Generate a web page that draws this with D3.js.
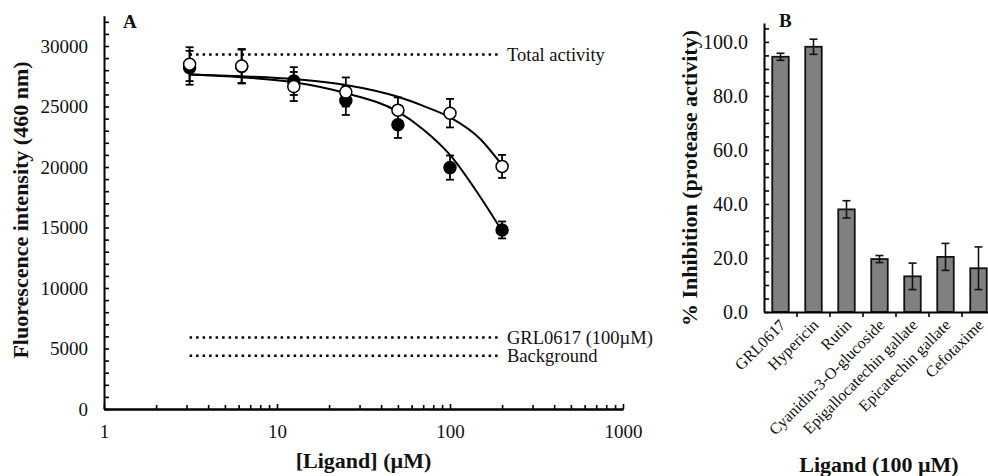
<!DOCTYPE html>
<html lang="en">
  <head>
    <meta charset="UTF-8" />
    <title>Ligand inhibition</title>
    <script src="https://d3js.org/d3.v7.min.js"></script>
    <style>
      body {
        margin: 0;
        background: #fff;
        font-family: "Liberation Serif", "Times New Roman", serif;
      }
      svg text {
        font-family: "Liberation Serif", "Times New Roman", serif;
        fill: #111;
      }
      .axis path,
      .axis line {
        stroke: #000;
      }
      .axis path {
        stroke-width: 2;
      }
      .axis line {
        stroke-width: 1.6;
      }
      .title {
        font-weight: bold;
        font-size: 22px;
      }
    </style>
  </head>
  <body>
    <svg id="chart" width="988" height="476"></svg>

    <script>
      // ---- panel A: fluorescence vs ligand concentration ----
      const conc = [3.125, 6.25, 12.5, 25, 50, 100, 200];
      const closedVals = [28200, 28300, 27100, 25500, 23500, 19950, 14800];
      const closedErr = [1400, 1400, 1150, 1200, 1100, 1000, 700];
      const openVals = [28500, 28350, 26650, 26200, 24700, 24450, 20050];
      const openErr = [1400, 1400, 1200, 1200, 1050, 1180, 950];

      // fitted curves
      const fitConc = [3.125, 6.25, 12.5, 25, 50, 70, 100, 150, 200];
      const fitOpen = [27650, 27500, 27270, 26780, 25800, 25050, 24100, 22300, 20150];
      const fitClosed = [27650, 27420, 27000, 26100, 24570, 23100, 21000, 17500, 14700];

      const refLabels = ["Total activity", "GRL0617 (100\u00b5M)", "Background"];
      const refValues = [29300, 5900, 4400];
      const refRange = [3.125, 190];

      const xTicksA = [1, 10, 100, 1000];
      const yTicksA = [0, 5000, 10000, 15000, 20000, 25000, 30000];

      // ---- panel B: % inhibition at 100 uM ----
      const ligands = [
        "GRL0617",
        "Hypericin",
        "Rutin",
        "Cyanidin-3-O-glucoside",
        "Epigallocatechin gallate",
        "Epicatechin gallate",
        "Cefotaxime",
      ];
      const inhibition = [94.5, 98.2, 38.0, 19.6, 13.2, 20.4, 16.2];
      const inhibitionErr = [1.3, 2.8, 3.2, 1.3, 4.9, 5.0, 7.9];
      const yTicksB = [0, 20, 40, 60, 80, 100];

      const svg = d3.select("#chart");

      // ===== Panel A =====
      const x = d3.scaleLog().domain([1, 1000]).range([104, 623]);
      const y = d3.scaleLinear().domain([0, 32500]).range([409, 15.75]);

      const minorX = [];
      xTicksA.slice(0, 3).forEach((d) => {
        for (let k = 2; k <= 9; k++) minorX.push(d * k);
      });

      svg
        .append("g")
        .attr("class", "axis")
        .attr("transform", "translate(0,409)")
        .call(
          d3.axisBottom(x).tickValues(minorX).tickSizeInner(-4).tickSizeOuter(0).tickFormat("")
        );

      const xAxisA = svg
        .append("g")
        .attr("class", "axis")
        .attr("transform", "translate(0,409)")
        .call(
          d3
            .axisBottom(x)
            .tickValues(xTicksA)
            .tickSizeInner(-5)
            .tickSizeOuter(0)
            .tickPadding(15.5)
            .tickFormat(d3.format("d"))
        );
      xAxisA.selectAll("text").style("font-size", "19px");

      const yMinorA = d3.range(0, 32001, 1000);
      const yAxisA = svg
        .append("g")
        .attr("class", "axis")
        .attr("transform", "translate(104,0)")
        .call(
          d3
            .axisLeft(y)
            .tickValues(yMinorA)
            .tickSizeInner(-5)
            .tickSizeOuter(0)
            .tickPadding(16)
            .tickFormat((d) => (yTicksA.includes(d) ? d : ""))
        );
      yAxisA.selectAll("text").style("font-size", "19px");

      // reference dotted lines
      refValues.forEach((v, i) => {
        svg
          .append("line")
          .attr("x1", x(refRange[0]))
          .attr("x2", x(refRange[1]))
          .attr("y1", y(v))
          .attr("y2", y(v))
          .attr("stroke", "#000")
          .attr("stroke-width", 2.5)
          .attr("stroke-dasharray", "2.5,4");
        svg
          .append("text")
          .attr("x", 507)
          .attr("y", y(v))
          .attr("dy", "0.34em")
          .style("font-size", "18.5px")
          .text(refLabels[i]);
      });

      // fit curves
      const line = d3
        .line()
        .x((d) => x(d[0]))
        .y((d) => y(d[1]))
        .curve(d3.curveMonotoneX);

      [fitOpen, fitClosed].forEach((vals) => {
        svg
          .append("path")
          .datum(fitConc.map((c, i) => [c, vals[i]]))
          .attr("fill", "none")
          .attr("stroke", "#000")
          .attr("stroke-width", 2)
          .attr("d", line);
      });

      // error bars
      function drawErrors(vals, errs) {
        const g = svg.append("g");
        conc.forEach((c, i) => {
          const cx = x(c);
          const top = y(vals[i] + errs[i]);
          const bot = y(vals[i] - errs[i]);
          g.append("line")
            .attr("x1", cx).attr("x2", cx)
            .attr("y1", top).attr("y2", bot)
            .attr("stroke", "#000").attr("stroke-width", 1.8);
          [top, bot].forEach((yy) => {
            g.append("line")
              .attr("x1", cx - 4).attr("x2", cx + 4)
              .attr("y1", yy).attr("y2", yy)
              .attr("stroke", "#000").attr("stroke-width", 1.8);
          });
        });
      }
      drawErrors(closedVals, closedErr);
      drawErrors(openVals, openErr);

      svg
        .append("g")
        .selectAll("circle")
        .data(closedVals)
        .join("circle")
        .attr("cx", (d, i) => x(conc[i]))
        .attr("cy", (d) => y(d))
        .attr("r", 6)
        .attr("fill", "#000")
        .attr("stroke", "#000")
        .attr("stroke-width", 1.5);

      svg
        .append("g")
        .selectAll("circle")
        .data(openVals)
        .join("circle")
        .attr("cx", (d, i) => x(conc[i]))
        .attr("cy", (d) => y(d))
        .attr("r", 6)
        .attr("fill", "#fff")
        .attr("stroke", "#000")
        .attr("stroke-width", 1.5);

      svg
        .append("text")
        .attr("x", 123)
        .attr("y", 28)
        .style("font-size", "19px")
        .style("font-weight", "bold")
        .text("A");

      svg
        .append("text")
        .attr("class", "title")
        .attr("x", 363.5)
        .attr("y", 468)
        .attr("text-anchor", "middle")
        .text("[Ligand] (\u00b5M)");

      svg
        .append("text")
        .attr("class", "title")
        .attr("transform", "translate(28,210) rotate(-90)")
        .attr("text-anchor", "middle")
        .text("Fluorescence intensity (460 nm)");

      // ===== Panel B =====
      const xB = d3
        .scaleBand()
        .domain(ligands)
        .range([764, 995])
        .paddingInner(0.5)
        .paddingOuter(0.25);
      const yB = d3.scaleLinear().domain([0, 107]).range([312, 23]);

      svg
        .append("g")
        .selectAll("rect")
        .data(inhibition)
        .join("rect")
        .attr("x", (d, i) => xB(ligands[i]))
        .attr("width", xB.bandwidth())
        .attr("y", (d) => yB(d))
        .attr("height", (d) => yB(0) - yB(d))
        .attr("fill", "#808080")
        .attr("stroke", "#111")
        .attr("stroke-width", 1.8);

      inhibition.forEach((v, i) => {
        const cx = xB(ligands[i]) + xB.bandwidth() / 2;
        const top = yB(v + inhibitionErr[i]);
        const bot = yB(v - inhibitionErr[i]);
        svg.append("line")
          .attr("x1", cx).attr("x2", cx)
          .attr("y1", top).attr("y2", bot)
          .attr("stroke", "#111").attr("stroke-width", 1.6);
        [top, bot].forEach((yy) => {
          svg.append("line")
            .attr("x1", cx - 4).attr("x2", cx + 4)
            .attr("y1", yy).attr("y2", yy)
            .attr("stroke", "#111").attr("stroke-width", 1.6);
        });
      });

      const yAxisB = svg
        .append("g")
        .attr("class", "axis")
        .attr("transform", "translate(764,0)")
        .call(
          d3
            .axisLeft(yB)
            .tickValues(d3.range(0, 106, 5))
            .tickSizeInner(-5)
            .tickSizeOuter(0)
            .tickPadding(16)
            .tickFormat((d) => (yTicksB.includes(d) ? d3.format(".1f")(d) : ""))
        );
      yAxisB.selectAll("text").style("font-size", "20px");

      const xAxisB = svg
        .append("g")
        .attr("class", "axis")
        .attr("transform", "translate(0,312)")
        .call(d3.axisBottom(xB).tickSize(0).tickSizeOuter(0).tickPadding(0));

      xAxisB.selectAll(".tick line").remove();
      xAxisB
        .selectAll("text")
        .style("font-size", "16px")
        .attr("text-anchor", "end")
        .attr("y", 0)
        .attr("dy", 0)
        .attr("transform", "translate(6,14) rotate(-45)");

      // boundary ticks between bars
      xAxisB
        .selectAll(".sep")
        .data(ligands)
        .join("line")
        .attr("class", "sep")
        .attr("x1", (d) => xB(d) + xB.bandwidth() + (xB.step() - xB.bandwidth()) / 2)
        .attr("x2", (d) => xB(d) + xB.bandwidth() + (xB.step() - xB.bandwidth()) / 2)
        .attr("y1", 0)
        .attr("y2", 5);

      svg
        .append("text")
        .attr("x", 779)
        .attr("y", 27)
        .style("font-size", "19px")
        .style("font-weight", "bold")
        .text("B");

      svg
        .append("text")
        .attr("class", "title")
        .attr("x", 879)
        .attr("y", 472)
        .attr("text-anchor", "middle")
        .text("Ligand (100 \u00b5M)");

      svg
        .append("text")
        .attr("class", "title")
        .attr("transform", "translate(697,178) rotate(-90)")
        .attr("text-anchor", "middle")
        .text("% Inhibition (protease activity)");
    </script>
  </body>
</html>
